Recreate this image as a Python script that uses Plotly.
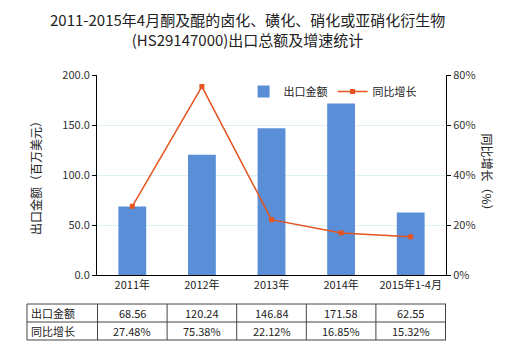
import plotly.graph_objects as go

categories = ["2011年", "2012年", "2013年", "2014年", "2015年1-4月"]
export_value = [68.56, 120.24, 146.84, 171.58, 62.55]
growth_rate = [27.48, 75.38, 22.12, 16.85, 15.32]
left_ticks = [0, 50, 100, 150, 200]
right_ticks = [0, 20, 40, 60, 80]

FONT = "Noto Sans CJK SC"
BAR_COLOR = "#5a8fd8"
LINE_COLOR = "#e5531f"

fig = go.Figure()
fig.add_trace(go.Bar(
    x=categories, y=export_value, name="出口金额",
    marker=dict(color=BAR_COLOR, line=dict(width=0)),
    width=0.4, yaxis="y",
))
fig.add_trace(go.Scatter(
    x=categories, y=growth_rate, name="同比增长",
    mode="lines+markers",
    line=dict(color=LINE_COLOR, width=1.5),
    marker=dict(symbol="square", size=5, color=LINE_COLOR),
    yaxis="y2",
))

fig.update_layout(
    width=520, height=350,
    margin=dict(l=97, r=74, t=75, b=75),
    paper_bgcolor="white", plot_bgcolor="white",
    font=dict(family=FONT, size=11, color="#333333"),
    showlegend=True,
    legend=dict(orientation="h", x=0.42, y=0.99, xanchor="left", yanchor="top",
                font=dict(size=11, color="#222"), bgcolor="rgba(0,0,0,0)",
                itemwidth=30, tracegroupgap=0),
    bargap=0.6,
    xaxis=dict(
        showline=True, linecolor="black", linewidth=1,
        ticks="", showgrid=False, tickfont=dict(size=11, color="#222"),
        fixedrange=True,
    ),
    yaxis=dict(
        range=[0, 200], tickvals=left_ticks, tickformat=".1f",
        showline=True, linecolor="black", linewidth=1,
        ticks="outside", ticklen=4, tickcolor="black",
        showgrid=True, gridcolor="#def2f6", gridwidth=1,
        zeroline=False, tickfont=dict(size=11, color="#333"),
        title=dict(text="出口金额（百万美元）", font=dict(size=12, color="#222"), standoff=18),
    ),
    yaxis2=dict(
        range=[0, 80], tickmode="array", tickvals=right_ticks,
        ticktext=[f"{t}%" for t in right_ticks],
        overlaying="y", side="right",
        showline=True, linecolor="black", linewidth=1,
        ticks="outside", ticklen=4, tickcolor="black",
        showgrid=False, zeroline=False, tickfont=dict(size=11, color="#333"),
    ),
)

annotations = [
    dict(text="2011-2015年4月酮及醌的卤化、磺化、硝化或亚硝化衍生物<br>(HS29147000)出口总额及增速统计",
         xref="paper", yref="paper", x=0.43, y=1.0, yshift=68, xanchor="center", yanchor="top",
         showarrow=False, font=dict(size=15, color="#222"), align="center"),
    dict(text="同比增长（%）", xref="paper", yref="paper", x=1.0, xshift=52, y=0.5,
         textangle=90, showarrow=False, font=dict(size=12, color="#222")),
]

# data table below the chart
row_top, row_mid, row_bot = -0.145, -0.235, -0.325
shapes = []
for yy in (row_top, row_mid, row_bot):
    shapes.append(dict(type="line", xref="paper", yref="paper", x0=-0.2006, x1=1.0,
                       y0=yy, y1=yy, line=dict(color="#444", width=1)))
col_edges = [-0.5 + i for i in range(len(categories) + 1)]
for ce in col_edges:
    shapes.append(dict(type="line", xref="x", yref="paper", x0=ce, x1=ce,
                       y0=row_top, y1=row_bot, line=dict(color="#444", width=1)))
shapes.append(dict(type="line", xref="paper", yref="paper", x0=-0.2006, x1=-0.2006,
                   y0=row_top, y1=row_bot, line=dict(color="#444", width=1)))

row_labels = ["出口金额", "同比增长"]
row_centers = [(row_top + row_mid) / 2, (row_mid + row_bot) / 2]
for lbl, yc in zip(row_labels, row_centers):
    annotations.append(dict(text=lbl, xref="paper", yref="paper", x=-0.2006, xshift=2, y=yc,
                            xanchor="left", yanchor="middle", showarrow=False,
                            font=dict(size=11, color="#222")))
for cat, v, g in zip(categories, export_value, growth_rate):
    annotations.append(dict(text=f"{v:.2f}", xref="x", yref="paper", x=cat, y=row_centers[0],
                            yanchor="middle", showarrow=False, font=dict(size=11, color="#222")))
    annotations.append(dict(text=f"{g:.2f}%", xref="x", yref="paper", x=cat, y=row_centers[1],
                            yanchor="middle", showarrow=False, font=dict(size=11, color="#222")))

fig.update_layout(annotations=annotations, shapes=shapes)
fig.write_html("out.html")
